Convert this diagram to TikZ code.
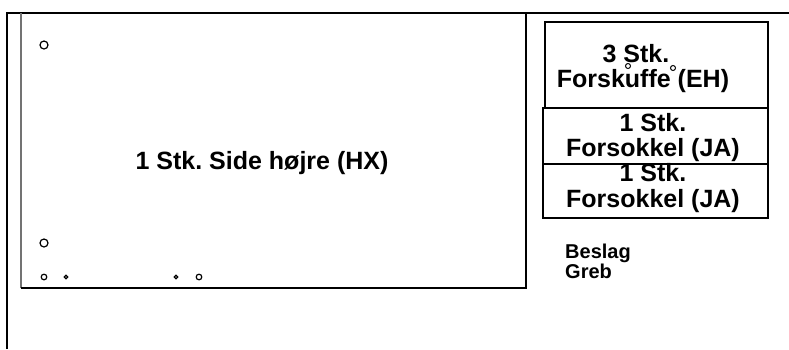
\documentclass[tikz,border=0pt]{standalone}
\usepackage{fontspec}
\setmainfont{Liberation Sans}
\begin{document}
\frenchspacing
\begin{tikzpicture}[x=1pt,y=-1pt,
  frame/.style={line width=2pt,black},
  boxline/.style={draw,line width=1.5pt,black,inner sep=0pt,anchor=north west},
  big/.style={font=\fontsize{25}{25}\selectfont\bfseries\frenchspacing,inner sep=0pt,anchor=base},
  small/.style={font=\fontsize{20}{20}\selectfont\bfseries,inner sep=0pt,anchor=base west},
  hole/.style={line width=1.2pt,black}]
\useasboundingbox (0,0) rectangle (789,349);
% outer frame
\coordinate (ob) at (7,349);
\coordinate (otl) at (7,13);
\coordinate (otr) at (789,13);
\draw[frame] (ob) -- (otl) -- (otr);
% main panel
\coordinate (ptl) at (21,13);
\coordinate (pbl) at (21,288);
\coordinate (pbr) at (526,288);
\coordinate (ptr) at (526,13);
\draw[line width=2pt,black!55] (ptl) -- (pbl);
\draw[frame] (pbl) -- (pbr) -- (ptr);
\node[big] (main) at (262,169) {1 Stk. Side højre (HX)};
% holes
\draw[hole] (44,45) circle (4);
\draw[hole] (44,243) circle (4);
\draw[hole] (44,277) circle (2.8);
\draw[hole] (66,277) circle (1.8);
\draw[hole] (176,277) circle (1.8);
\draw[hole] (199,277) circle (2.8);
% right boxes
\node[boxline,minimum width=223pt,minimum height=86pt] (b1) at (544,21) {};
\node[boxline,minimum width=225pt,minimum height=56pt] (b2) at (542,107) {};
\node[boxline,minimum width=225pt,minimum height=54pt] (b3) at (542,163) {};
\node[big] (b1a) at (636,62) {3 Stk.};
\node[big] (b1b) at (643,87) {Forskuffe (EH)};
\draw[line width=1pt] (628,66) circle (2.5);
\draw[line width=1pt] (673,68) circle (2.5);
\node[big] (b2a) at (653,131) {1 Stk.};
\node[big] (b2b) at (653,156) {Forsokkel (JA)};
\node[big] (b3a) at (653,181) {1 Stk.};
\node[big] (b3b) at (653,207) {Forsokkel (JA)};
\node[small] (beslag) at (565,258) {Beslag};
\node[small] (greb) at (565,278) {Greb};
\end{tikzpicture}
\end{document}
